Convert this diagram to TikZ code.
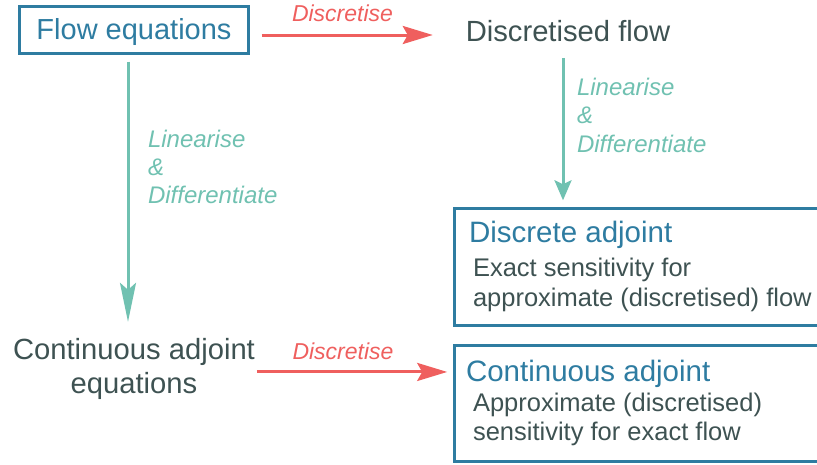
\documentclass[tikz,border=0pt]{standalone}
\usepackage{fontspec}
\setmainfont{Liberation Sans}
\usetikzlibrary{arrows.meta}
\definecolor{boxblue}{HTML}{2E7CA1}
\definecolor{txtgrey}{HTML}{3E5252}
\definecolor{tealc}{HTML}{70C1B1}
\definecolor{redc}{HTML}{EF5F5E}
\tikzset{
  plain/.style={inner sep=0pt, outer sep=0pt},
  maintxt/.style={plain, text=txtgrey, font=\fontsize{29.2}{34}\selectfont},
  titletxt/.style={plain, text=boxblue, font=\fontsize{29.5}{34}\selectfont},
  bodytxt/.style={plain, text=txtgrey, font=\fontsize{25.5}{30}\selectfont},
  redlbl/.style={plain, text=redc, font=\fontsize{23}{28}\selectfont\itshape},
  teallbl/.style={plain, text=tealc, font=\fontsize{24}{28}\selectfont\itshape},
  boxline/.style={draw=boxblue, line width=3pt},
  redarrow/.style={draw=redc, line width=3pt, -{Stealth[length=30pt, width=18pt, inset=5pt]}},
  tealarrowA/.style={draw=tealc, line width=3pt, -{Stealth[length=39pt, width=16pt, inset=7pt]}},
  tealarrowB/.style={draw=tealc, line width=3pt, -{Stealth[length=20pt, width=17pt, inset=4pt]}},
}
\begin{document}
\begin{tikzpicture}[x=1pt, y=-1pt]
\useasboundingbox (0,0) rectangle (817,464);

% top-left box
\node[boxline, plain, text=boxblue, font=\fontsize{29}{34}\selectfont,
      text height=20pt, text depth=2pt,
      minimum width=229pt, minimum height=47pt] (flow) at (134,30) {Flow equations};

% discretised flow
\node[maintxt, anchor=base] (discflow) at (568,41.7) {Discretised flow};

% continuous adjoint equations (left)
\node[maintxt, anchor=base] (ce1) at (134,359) {Continuous adjoint};
\node[maintxt, anchor=base] (ce2) at (134,393) {equations};

% right boxes (open to the right edge)
\node[plain, minimum width=375.8pt, minimum height=116.4pt] (dabox) at (642.1,267) {};
\draw[boxline] (dabox.north east) -- (dabox.north west) -- (dabox.south west) -- (dabox.south east);
\node[plain, minimum width=375.8pt, minimum height=116.3pt] (cabox) at (642.1,403.65) {};
\draw[boxline] (cabox.north east) -- (cabox.north west) -- (cabox.south west) -- (cabox.south east);

\node[titletxt, anchor=base west] (datitle) at (469,242.7) {Discrete adjoint};
\node[bodytxt, anchor=base west] (da1) at (473,276) {Exact sensitivity for};
\node[bodytxt, anchor=base west] (da2) at (473,306.7) {approximate (discretised) flow};

\node[titletxt, anchor=base west] (catitle) at (466,381.7) {Continuous adjoint};
\node[bodytxt, anchor=base west] (ca1) at (473,411.7) {Approximate (discretised)};
\node[bodytxt, anchor=base west] (ca2) at (473,440) {sensitivity for exact flow};

% red arrows
\draw[redarrow, shorten <=13pt, shorten >=33pt]
  ([yshift=-5pt]flow.east) -- ([yshift=-5pt]flow.east -| discflow.west);
\node[redlbl, anchor=base] (lblA) at (342.5,21.7) {Discretise};

\draw[redarrow, shorten <=2pt, shorten >=7pt]
  ([yshift=-20.5pt]ce1.east) -- ([yshift=-20.5pt]ce1.east -| cabox.west);
\node[redlbl, anchor=base] (lblB) at (343,359) {Discretise};

% teal arrows
\draw[tealarrowA, shorten <=8pt, shorten >=16pt]
  ([xshift=-6pt]flow.south) -- ([xshift=-6pt]flow.south |- ce1.north);
\node[teallbl, anchor=base west] (l1a) at (148,147) {Linearise};
\node[teallbl, anchor=base west] (l1b) at (148,175) {\&};
\node[teallbl, anchor=base west] (l1c) at (148,203) {Differentiate};

\draw[tealarrowB, shorten <=16pt, shorten >=8.5pt]
  ([xshift=-5pt]discflow.south) -- ([xshift=-5pt]discflow.south |- dabox.north);
\node[teallbl, anchor=base west] (l2a) at (577,95) {Linearise};
\node[teallbl, anchor=base west] (l2b) at (577,123.5) {\&};
\node[teallbl, anchor=base west] (l2c) at (577,152) {Differentiate};
\end{tikzpicture}
\end{document}
